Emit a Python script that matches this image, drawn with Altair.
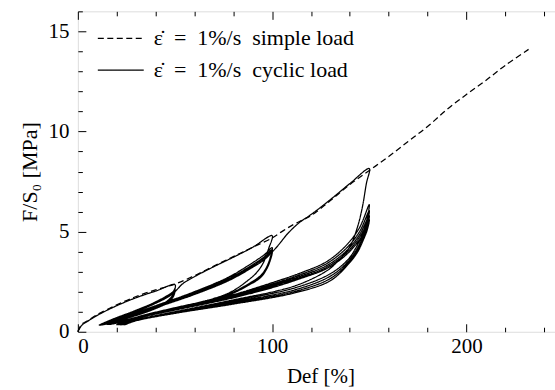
import altair as alt
import pandas as pd

# ---- data ----
simple_x = [0, 2, 5, 10, 20, 30, 40, 50, 60, 70, 80, 90, 100, 105, 110, 115, 120, 130,
            140, 150, 160, 170, 180, 190, 200, 210, 220, 232]
simple_y = [0, 0.38, 0.55, 0.86, 1.34, 1.76, 2.09, 2.38, 2.8, 3.28, 3.75, 4.22, 4.68,
            5.0, 5.3, 5.55, 5.8, 6.55, 7.35, 8.05, 8.75, 9.5, 10.25, 11.1, 11.85, 12.55,
            13.3, 14.1]

cyclic_x = [
    # initial loading to 50 %
    0, 2, 5, 10, 20, 30, 40, 50,
    # cycles at 50 %
    49.5, 48, 45, 38, 28, 18, 11,
    18, 28, 38, 45, 49, 50,
    49.5, 48, 45, 38, 28, 18, 11.5,
    18, 28, 38, 45, 49, 50,
    49.5, 48, 45, 38, 28, 18, 12,
    18, 28, 38, 45, 49, 50,
    49.5, 48, 45, 38, 28, 18, 12.5,
    18, 28, 38, 45, 49, 51, 54, 60, 70, 80, 90, 100,
    # cycles at 100 %
    98, 95.5, 92, 88, 78, 60, 40, 25, 15,
    25, 40, 60, 78, 90, 96, 100,
    99, 97, 94, 88, 78, 60, 40, 25, 15.5,
    25, 40, 60, 78, 90, 96, 100,
    99, 97, 94, 88, 78, 60, 40, 25, 16,
    25, 40, 60, 78, 90, 96, 100,
    99, 97, 94, 88, 78, 60, 40, 25, 16.5,
    25, 40, 60, 78, 90, 96, 100, 103, 108, 114, 120, 130, 140, 150,
    # cycles at 150 %
    148.5, 146.5, 144, 140, 134, 129, 112, 78, 50, 30, 20,
    30, 50, 78, 100, 115, 128, 138, 145, 150,
    149, 147, 144, 139, 130, 112, 78, 50, 30, 21,
    30, 50, 78, 100, 115, 128, 138, 145, 150,
    149, 147, 144, 139, 130, 112, 78, 50, 30, 22,
    30, 50, 78, 100, 115, 128, 138, 145, 150,
    149, 147, 144, 139, 130, 112, 78, 50, 30, 23,
    30, 50, 78, 100, 115, 128, 138, 145, 150,
    149, 147, 144, 139, 130, 112, 78, 50, 30, 24,
    30, 50, 78, 100, 115, 128, 138, 145, 150,
]
cyclic_y = [
    0, 0.32, 0.52, 0.82, 1.3, 1.7, 2.03, 2.35,
    2.0, 1.72, 1.47, 1.17, 0.82, 0.52, 0.33,
    0.63, 1.0, 1.4, 1.75, 2.0, 2.17,
    1.92, 1.66, 1.43, 1.13, 0.79, 0.49, 0.33,
    0.61, 0.97, 1.37, 1.71, 1.96, 2.1,
    1.86, 1.62, 1.4, 1.1, 0.77, 0.48, 0.34,
    0.59, 0.95, 1.35, 1.68, 1.93, 2.05,
    1.83, 1.6, 1.38, 1.08, 0.75, 0.47, 0.35,
    0.58, 0.93, 1.33, 1.66, 1.91, 2.1, 2.4, 2.75, 3.25, 3.72, 4.22, 4.8,
    4.1, 3.45, 2.95, 2.6, 1.95, 1.4, 0.95, 0.6, 0.37,
    0.78, 1.3, 2.0, 2.75, 3.45, 3.85, 4.2,
    3.7, 3.2, 2.8, 2.4, 1.9, 1.38, 0.93, 0.58, 0.37,
    0.75, 1.26, 1.95, 2.68, 3.35, 3.75, 4.1,
    3.6, 3.15, 2.75, 2.37, 1.87, 1.36, 0.92, 0.57, 0.37,
    0.73, 1.23, 1.9, 2.62, 3.28, 3.68, 4.02,
    3.55, 3.1, 2.7, 2.33, 1.85, 1.34, 0.9, 0.56, 0.37,
    0.72, 1.2, 1.86, 2.57, 3.22, 3.6, 3.98, 4.3, 4.9, 5.45, 5.85, 6.6, 7.4, 8.15,
    7.4, 6.25, 5.25, 4.25, 3.55, 3.1, 2.3, 1.55, 1.0, 0.6, 0.35,
    0.72, 1.2, 1.8, 2.45, 2.95, 3.5, 4.3, 5.2, 6.35,
    5.7, 5.0, 4.35, 3.6, 2.9, 2.2, 1.5, 0.98, 0.58, 0.35,
    0.69, 1.16, 1.76, 2.38, 2.87, 3.4, 4.15, 5.0, 6.05,
    5.45, 4.85, 4.2, 3.5, 2.78, 2.1, 1.45, 0.96, 0.57, 0.35,
    0.67, 1.13, 1.72, 2.32, 2.8, 3.3, 4.02, 4.85, 5.8,
    5.25, 4.7, 4.08, 3.42, 2.66, 2.02, 1.4, 0.94, 0.56, 0.35,
    0.65, 1.1, 1.68, 2.26, 2.73, 3.22, 3.92, 4.72, 5.6,
    5.1, 4.6, 3.98, 3.35, 2.55, 1.95, 1.35, 0.92, 0.55, 0.35,
    0.64, 1.08, 1.65, 2.2, 2.67, 3.15, 3.83, 4.6, 5.45,
]

label_simple = "ε̇\u2002=\u20021%/s\u2002simple load"
label_cyclic = "ε̇\u2002=\u20021%/s\u2002cyclic load"

x_ticks = [0, 20, 40, 60, 80, 100, 120, 140, 160, 180, 200, 220, 240]
y_ticks = list(range(0, 17))
x_labels = [0, 100, 200]
y_labels = [0, 5, 10, 15]

rows = []
for i, (a, b) in enumerate(zip(cyclic_x, cyclic_y)):
    rows.append({"x": a, "y": b, "i": i, "series": label_cyclic})
for i, (a, b) in enumerate(zip(simple_x, simple_y)):
    rows.append({"x": a, "y": b, "i": i, "series": label_simple})
df = pd.DataFrame(rows)

W, H = 478, 321
FONT = "Liberation Serif"
xscale = alt.Scale(domain=[0, 245.6], nice=False, zero=False)
yscale = alt.Scale(domain=[0, 16], nice=False, zero=False)

xtick_size = {"condition": {"test": "datum.value % 100 === 0", "value": 8}, "value": 4.5}
ytick_size = {"condition": {"test": "datum.value % 5 === 0", "value": 8}, "value": 4.5}

base = alt.Chart(df)

lines = base.mark_line(interpolate="catmull-rom", strokeWidth=1.25, color="black").encode(
    x=alt.X("x:Q", scale=xscale,
            axis=alt.Axis(orient="bottom", values=x_labels, ticks=False, tickSize=0,
                          domain=False, grid=False, labelPadding=4, labelFontSize=21,
                          labelFont=FONT, title="Def [%]", titleFont=FONT,
                          titleFontSize=21, titleFontWeight="normal", titleX=243,
                          titlePadding=9, labelColor="black", titleColor="black")),
    y=alt.Y("y:Q", scale=yscale,
            axis=alt.Axis(orient="left", values=y_labels, ticks=False, tickSize=0,
                          domain=False, grid=False, labelPadding=9, labelFontSize=21,
                          labelFont=FONT, title="F/S₀ [MPa]", titleFont=FONT,
                          titleFontSize=22, titleFontWeight="normal", titlePadding=6,
                          labelColor="black", titleColor="black")),
    strokeDash=alt.StrokeDash(
        "series:N",
        scale=alt.Scale(domain=[label_simple, label_cyclic], range=[[6, 3.5], [1, 0]]),
        legend=alt.Legend(title=None, orient="none", legendX=19, legendY=16, padding=0,
                          symbolType="M-1,0H3.6", symbolSize=400, symbolStrokeWidth=1.3,
                          symbolStrokeColor="black", symbolFillColor="transparent",
                          labelFont=FONT, labelFontSize=22, labelOffset=35,
                          rowPadding=10, labelLimit=400, labelColor="black"),
    ),
    order=alt.Order("i:Q"),
)

ticks_a = base.mark_point(opacity=0).encode(
    x=alt.X("x:Q", scale=xscale,
            axis=alt.Axis(orient="top", offset=-H, values=x_ticks, labels=False,
                          domain=False, grid=False, tickSize=xtick_size, tickColor="black",
                          tickWidth=1, title=None)),
    y=alt.Y("y:Q", scale=yscale,
            axis=alt.Axis(orient="right", offset=-W, values=y_ticks, labels=False,
                          domain=False, grid=False, tickSize=ytick_size, tickColor="black",
                          tickWidth=1, title=None)),
)

ticks_b = base.mark_point(opacity=0).encode(
    x=alt.X("x:Q", scale=xscale,
            axis=alt.Axis(orient="bottom", offset=-H, values=x_ticks, labels=False,
                          domain=False, grid=False, tickSize=xtick_size, tickColor="black",
                          tickWidth=1, title=None)),
    y=alt.Y("y:Q", scale=yscale, axis=None),
)

chart = alt.layer(lines, ticks_a, ticks_b).resolve_axis(
    x="independent", y="independent"
).properties(
    width=W, height=H,
    autosize=alt.AutoSizeParams(type="none"),
    padding={"left": 78, "top": 11, "right": 0, "bottom": 58},
).configure_view(
    stroke="black", strokeWidth=1.5
).configure(font=FONT, background="white")

chart.save("out.html", embed_options={"renderer": "svg", "actions": False})
